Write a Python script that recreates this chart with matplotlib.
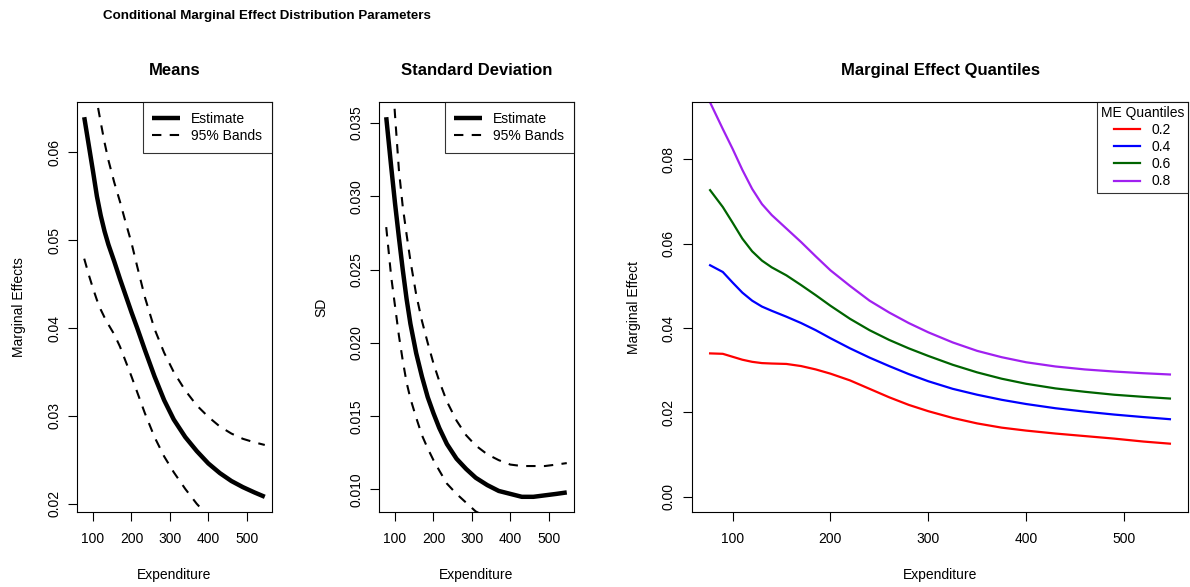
import matplotlib
matplotlib.use("Agg")
import matplotlib.pyplot as plt

plt.rcParams['font.family'] = ['Liberation Sans', 'DejaVu Sans']

# ---------------- data ----------------
x_grid = [77, 90, 100, 110, 120, 130, 140, 155, 170, 185, 200, 215, 235, 260,
          285, 310, 340, 370, 400, 430, 460, 490, 520, 547]

mean_est = [0.0640, 0.0605, 0.0578, 0.0550, 0.0528, 0.0510, 0.0495, 0.0476,
            0.0456, 0.0437, 0.0418, 0.0400, 0.0375, 0.0345, 0.0318, 0.0296,
            0.0276, 0.0260, 0.0246, 0.0235, 0.0226, 0.0219, 0.0213, 0.0208]
mean_upper = [0.0750, 0.0712, 0.0684, 0.0658, 0.0634, 0.0611, 0.0591, 0.0566,
              0.0544, 0.0520, 0.0497, 0.0470, 0.0435, 0.0399, 0.0372, 0.0350,
              0.0329, 0.0312, 0.0299, 0.0288, 0.0280, 0.0274, 0.0270, 0.0267]
mean_lower = [0.0479, 0.0459, 0.0445, 0.0432, 0.0421, 0.0412, 0.0404, 0.0393,
              0.0379, 0.0362, 0.0345, 0.0327, 0.0303, 0.0276, 0.0254, 0.0236,
              0.0217, 0.0200, 0.0186, 0.0173, 0.0161, 0.0151, 0.0142, 0.0137]

sd_est = [0.0354, 0.0320, 0.0295, 0.0272, 0.0250, 0.0230, 0.0213, 0.0193,
          0.0177, 0.0163, 0.0152, 0.0142, 0.0131, 0.0121, 0.0114, 0.0108,
          0.0103, 0.0099, 0.0097, 0.0095, 0.0095, 0.0096, 0.0097, 0.0098]
sd_upper = [0.0432, 0.0395, 0.0355, 0.0318, 0.0293, 0.0274, 0.0256, 0.0233,
            0.0215, 0.0200, 0.0186, 0.0174, 0.0160, 0.0147, 0.0137, 0.0130,
            0.0124, 0.0120, 0.0117, 0.0116, 0.0116, 0.0116, 0.0117, 0.0118]
sd_lower = [0.0279, 0.0245, 0.0225, 0.0205, 0.0188, 0.0173, 0.0162, 0.0149,
            0.0137, 0.0128, 0.0120, 0.0113, 0.0104, 0.0097, 0.0091, 0.0085,
            0.0081, 0.0077, 0.0075, 0.0073, 0.0072, 0.0072, 0.0073, 0.0073]

q_grid = [77, 90, 100, 110, 120, 130, 140, 155, 170, 185, 200, 220, 240, 260,
          280, 300, 325, 350, 375, 400, 430, 460, 490, 520, 547]
q_labels = ['0.2', '0.4', '0.6', '0.8']
q20 = [0.0340, 0.0339, 0.0332, 0.0325, 0.0320, 0.0317, 0.0316, 0.0315, 0.0310,
       0.0302, 0.0292, 0.0276, 0.0256, 0.0236, 0.0218, 0.0203, 0.0187, 0.0174,
       0.0164, 0.0157, 0.0150, 0.0144, 0.0138, 0.0131, 0.0126]
q40 = [0.0549, 0.0533, 0.0508, 0.0484, 0.0465, 0.0451, 0.0441, 0.0427, 0.0412,
       0.0395, 0.0376, 0.0352, 0.0330, 0.0310, 0.0291, 0.0274, 0.0256, 0.0242,
       0.0230, 0.0220, 0.0210, 0.0202, 0.0195, 0.0189, 0.0184]
q60 = [0.0727, 0.0687, 0.0650, 0.0612, 0.0582, 0.0560, 0.0544, 0.0525, 0.0502,
       0.0478, 0.0453, 0.0422, 0.0395, 0.0372, 0.0352, 0.0334, 0.0313, 0.0295,
       0.0280, 0.0268, 0.0257, 0.0249, 0.0242, 0.0237, 0.0233]
q80 = [0.0935, 0.0872, 0.0825, 0.0775, 0.0730, 0.0694, 0.0668, 0.0636, 0.0604,
       0.0570, 0.0537, 0.0500, 0.0465, 0.0437, 0.0412, 0.0390, 0.0366, 0.0346,
       0.0331, 0.0319, 0.0309, 0.0302, 0.0297, 0.0293, 0.0290]
q_series = [q20, q40, q60, q80]
q_colors = ['#FF0000', '#0000FF', '#006400', '#A020F0']

x_ticks = [100, 200, 300, 400, 500]
mean_yticks = [0.02, 0.03, 0.04, 0.05, 0.06]
sd_yticks = [0.010, 0.015, 0.020, 0.025, 0.030, 0.035]
q_yticks = [0.00, 0.02, 0.04, 0.06, 0.08]
q_ylim = (0.0, 0.09)

# ---------------- layout ----------------
W, H = 1190, 587
fig = plt.figure(figsize=(W / 100, H / 100), dpi=100)
bottom = (H - 512) / H
height = 410 / H
ax1 = fig.add_axes([77 / W, bottom, 195 / W, height])
ax2 = fig.add_axes([379 / W, bottom, 195 / W, height])
ax3 = fig.add_axes([691.7 / W, bottom, 496.6 / W, height])

dash = (0, (4.5, 4))


def r_lim(vals):
    lo, hi = min(vals), max(vals)
    pad = 0.04 * (hi - lo)
    return lo - pad, hi + pad


def style(ax, title, ylabel, yticks, yfmt, ylab_x):
    ax.set_xticks(x_ticks)
    ax.set_xticklabels([str(t) for t in x_ticks])
    ax.set_yticks(yticks)
    ax.set_yticklabels([yfmt.format(t) for t in yticks])
    ax.tick_params(axis='both', direction='out', length=6.5, width=0.8,
                   labelsize=10, color='black')
    ax.tick_params(axis='x', pad=8)
    ax.tick_params(axis='y', pad=5, labelrotation=90)
    for lbl in ax.get_yticklabels():
        lbl.set_va('center')
    for sp in ax.spines.values():
        sp.set_linewidth(0.8)
        sp.set_color('black')
    ax.set_xlabel('Expenditure', fontsize=10)
    ax.xaxis.set_label_coords(0.5, -0.1537)
    ax.xaxis.label.set_va('center')
    ax.set_ylabel(ylabel, fontsize=10)
    ax.yaxis.set_label_coords(ylab_x, 0.5)
    ax.yaxis.label.set_va('center')
    ax.text(0.5, 1.078, title, transform=ax.transAxes, ha='center',
            va='center', fontsize=12, fontweight='bold')


# Means
ax1.plot(x_grid, mean_est, color='black', lw=3.2, label='Estimate',
         solid_capstyle='butt', solid_joinstyle='round')
ax1.plot(x_grid, mean_upper, color='black', lw=1.5, linestyle=dash,
         label='95% Bands')
ax1.plot(x_grid, mean_lower, color='black', lw=1.5, linestyle=dash)
ax1.set_xlim(*r_lim(x_grid))
ax1.set_ylim(*r_lim(mean_est))
style(ax1, 'Means', 'Marginal Effects', mean_yticks, '{:.2f}', -0.295)

# SD
ax2.plot(x_grid, sd_est, color='black', lw=3.2, label='Estimate',
         solid_capstyle='butt', solid_joinstyle='round')
ax2.plot(x_grid, sd_upper, color='black', lw=1.5, linestyle=dash,
         label='95% Bands')
ax2.plot(x_grid, sd_lower, color='black', lw=1.5, linestyle=dash)
ax2.set_xlim(*r_lim(x_grid))
ax2.set_ylim(*r_lim(sd_est))
style(ax2, 'Standard Deviation', 'SD', sd_yticks, '{:.3f}', -0.295)

for ax in (ax1, ax2):
    leg = ax.legend(loc='upper right', borderaxespad=0, fancybox=False,
                    fontsize=10, handlelength=2.0, handletextpad=0.8,
                    labelspacing=0.25, borderpad=0.7)
    leg.get_frame().set_edgecolor('black')
    leg.get_frame().set_linewidth(0.8)

# Quantiles
for ys, c, lab in zip(q_series, q_colors, q_labels):
    ax3.plot(q_grid, ys, color=c, lw=1.6, label=lab, solid_joinstyle='round')
ax3.set_xlim(*r_lim(q_grid))
ax3.set_ylim(*r_lim(list(q_ylim)))
style(ax3, 'Marginal Effect Quantiles', 'Marginal Effect', q_yticks,
      '{:.2f}', -0.117)
leg3 = ax3.legend(loc='upper right', borderaxespad=0, fancybox=False,
                  fontsize=10, title='ME Quantiles', title_fontsize=10,
                  handlelength=1.9, handletextpad=0.85, labelspacing=0.22,
                  borderpad=0.3)
leg3.get_frame().set_edgecolor('black')
leg3.get_frame().set_linewidth(0.8)

fig.text(103 / W, 1 - 16 / H, 'Conditional Marginal Effect Distribution Parameters',
         ha='left', va='center', fontsize=9.6, fontweight='bold')

fig.savefig('out.png', dpi=100)
